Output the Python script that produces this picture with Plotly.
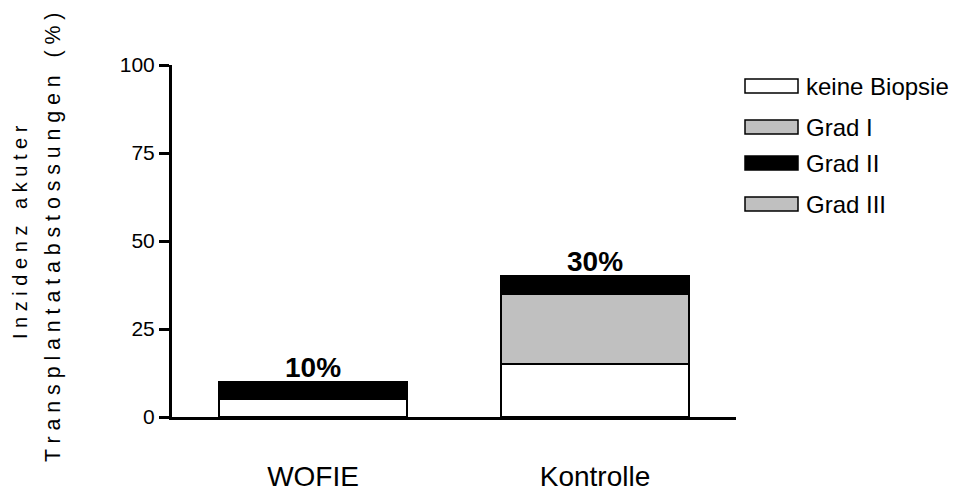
import plotly.graph_objects as go

categories = ["WOFIE", "Kontrolle"]
series_names = ["keine Biopsie", "Grad I", "Grad II", "Grad III"]
keine_biopsie = [5, 15]
grad_1 = [0, 20]
grad_2 = [5, 5]
grad_3 = [0, 0]
totals = [10, 40]
total_labels = ["10%", "30%"]
y_ticks = [0, 25, 50, 75, 100]

series_values = [keine_biopsie, grad_1, grad_2, grad_3]
colors = ["#FFFFFF", "#C0C0C0", "#000000", "#C0C0C0"]

FONT = "Liberation Sans, Arial, Helvetica, sans-serif"

# page body margin compensation
OFF = 8
W, H = 962 - OFF, 491 - OFF
# plot area in page pixels
L, R, T, B = 172, 736, 65, 417

fig = go.Figure()
for name, vals, col in zip(series_names, series_values, colors):
    fig.add_trace(go.Bar(
        x=categories, y=vals, name=name,
        marker=dict(color=col, line=dict(color="black", width=1.5)),
        showlegend=False,
    ))

for cat, tot, lab in zip(categories, totals, total_labels):
    fig.add_annotation(x=cat, y=tot, text="<b>%s</b>" % lab, showarrow=False,
                       yanchor="bottom", yshift=-3,
                       font=dict(family=FONT, size=28, color="black"))

def px(x):
    return (x - L) / (R - L)
def py(y):
    return (B - y) / (B - T)

legend_rows = [86, 127, 163, 204]
for name, col, yc in zip(series_names, colors, legend_rows):
    fig.add_shape(type="rect", xref="paper", yref="paper",
                  x0=px(745), x1=px(798), y0=py(yc + 7), y1=py(yc - 7),
                  fillcolor=col, line=dict(color="black", width=1.5))
    fig.add_annotation(xref="paper", yref="paper", x=px(805), y=py(yc),
                       text=name, showarrow=False, xanchor="left", yanchor="middle",
                       borderpad=0,
                       font=dict(family=FONT, size=24, color="black"))

title1 = "I n z i d e n z \u00a0 a k u t e r"
title2 = "T r a n s p l a n t a t a b s t o s s u n g e n \u00a0 ( % )"
fig.add_annotation(xref="paper", yref="paper", x=px(20), y=py(232), text=title1,
                   textangle=-90, showarrow=False, xanchor="center", yanchor="middle",
                   font=dict(family=FONT, size=20, color="black"))
fig.add_annotation(xref="paper", yref="paper", x=px(53), y=py(238), text=title2,
                   textangle=-90, showarrow=False, xanchor="center", yanchor="middle",
                   font=dict(family=FONT, size=21.3, color="black"))

fig.update_layout(
    barmode="stack",
    bargap=0.335,
    width=W, height=H,
    margin=dict(l=L - OFF, r=962 - R, t=T - OFF, b=491 - B, autoexpand=False),
    plot_bgcolor="white", paper_bgcolor="white",
    font=dict(family=FONT, color="black"),
)
fig.update_xaxes(range=[-0.5, 1.5], showline=True, linecolor="black", linewidth=3,
                 showgrid=False, zeroline=False, ticks="", automargin=False,
                 tickfont=dict(family=FONT, size=28, color="black"),
                 ticklabelstandoff=32)
fig.update_yaxes(range=[0, 100], tickvals=y_ticks, showline=True, linecolor="black",
                 linewidth=3, showgrid=False, zeroline=False, ticks="outside",
                 ticklen=10, tickwidth=3, tickcolor="black", automargin=False,
                 tickfont=dict(family=FONT, size=21, color="black"))

fig.write_html("out.html")
